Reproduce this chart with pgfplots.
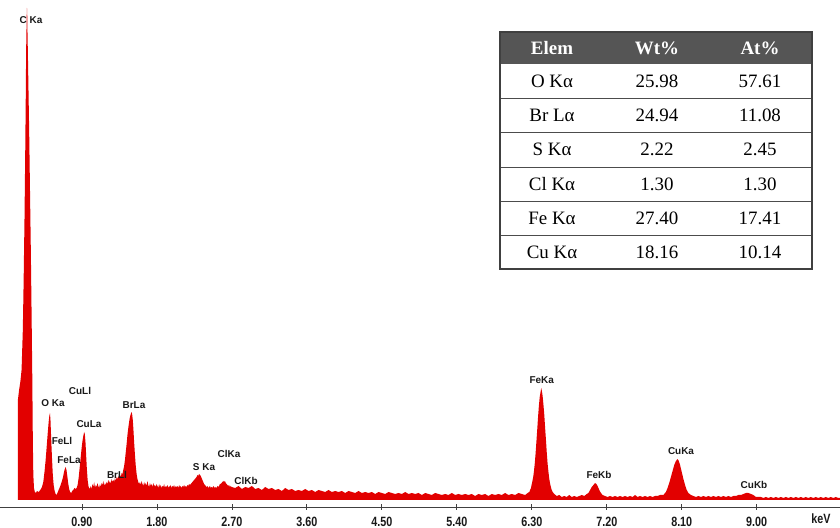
\documentclass[border=0pt]{standalone}
\usepackage{pgfplots}
\pgfplotsset{compat=1.18}
\usepackage{fontspec}
\setmainfont{Liberation Serif}
\newfontfamily\labfont{Liberation Sans}
\newfontfamily\tickfont[FakeStretch=0.8]{Liberation Sans}
\definecolor{specred}{RGB}{226,0,0}
\definecolor{hdr}{RGB}{85,85,85}
\definecolor{labc}{RGB}{25,25,25}
\newcommand{\pk}[3]{\node[font=\labfont\bfseries\fontsize{10}{10}\selectfont, text=labc, anchor=base, inner sep=0pt] at (#1,{507-#2-3.6}) {#3};}
\newcommand{\tc}[3]{\node[font=\fontsize{19}{19}\selectfont, anchor=base, inner sep=0pt] at (#1,#2) {#3};}
\begin{document}
\begin{tikzpicture}[x=1bp,y=1bp]
\begin{axis}[at={(0,0)}, anchor=south west, scale only axis,
  width=840bp, height=507bp,
  xmin=-0.084, xmax=10.0, ymin=-7, ymax=500,
  axis x line=bottom, axis y line=none,
  axis line style={-, draw=black!75, line width=0.8bp},
  xtick={0.9,1.8,2.7,3.6,4.5,5.4,6.3,7.2,8.1,9.0},
  xticklabels={0.90,1.80,2.70,3.60,4.50,5.40,6.30,7.20,8.10,9.00},
  ytick=\empty,
  xtick align=center, major tick length=6bp,
  tick style={draw=black!75, line width=0.8bp},
  xticklabel style={font=\tickfont\bfseries\fontsize{13.5}{13.5}\selectfont, text=labc, inner sep=0pt, anchor=base, yshift=-16.8bp},
  clip=false]
\addplot[fill=specred, draw=none] coordinates {
(0.130,0) (0.131,100) (0.145,110) (0.160,118) (0.175,130) (0.190,170) (0.200,220) (0.210,280) (0.218,340) (0.225,400) (0.230,450) (0.234,470) (0.237,485) (0.240,492) (0.243,485) (0.246,468) (0.250,450) (0.258,410) (0.266,370) (0.276,310) (0.286,250) (0.296,180) (0.304,120) (0.310,60) (0.316,25) (0.324,12) (0.334,8) (0.346,7)
(0.360,9) (0.380,8) (0.400,10) (0.420,13) (0.436,18) (0.450,28) (0.464,40) (0.478,55) (0.490,68) (0.500,78) (0.508,84) (0.516,87) (0.522,80) (0.530,62) (0.540,42) (0.550,25) (0.560,15) (0.572,9) (0.584,6) (0.596,5) (0.610,8) (0.625,11)
(0.640,14) (0.656,18) (0.670,22) (0.682,27) (0.694,31) (0.704,33) (0.714,30) (0.724,24) (0.734,17) (0.746,11) (0.758,8) (0.770,7) (0.782,9) (0.796,10) (0.810,12) (0.824,11)
(0.836,12) (0.848,15) (0.860,22) (0.872,32) (0.884,42) (0.896,52) (0.906,59) (0.916,64) (0.926,68) (0.934,66) (0.942,58) (0.950,45) (0.958,32) (0.968,20) (0.980,13) (0.994,11)
(1.006,14) (1.016,11) (1.026,16) (1.036,13) (1.046,18) (1.056,12) (1.066,15) (1.076,13) (1.086,17) (1.096,14) (1.106,12) (1.116,16) (1.126,13) (1.136,17) (1.146,15) (1.156,19) (1.166,14) (1.176,17) (1.186,15) (1.196,18) (1.206,16) (1.216,20) (1.226,17) (1.236,19) (1.246,16) (1.256,21) (1.266,18) (1.276,20) (1.286,18) (1.296,22) (1.306,19) (1.316,23) (1.326,21) (1.336,24) (1.346,22) (1.356,25) (1.366,23) (1.376,27) (1.386,26)
(1.396,30) (1.406,34) (1.416,40) (1.426,48) (1.436,56) (1.446,65) (1.456,72) (1.466,78) (1.476,83) (1.486,86) (1.494,88) (1.502,86) (1.510,80) (1.518,70) (1.526,58) (1.536,45) (1.546,34) (1.556,26) (1.566,21) (1.576,18) (1.586,16)
(1.596,18) (1.606,15) (1.616,19) (1.626,16) (1.636,14) (1.646,18) (1.656,15) (1.666,17) (1.676,14) (1.686,19) (1.696,15) (1.706,13) (1.716,17) (1.726,14) (1.736,16) (1.746,13) (1.756,17) (1.766,14) (1.776,15) (1.786,13) (1.796,16) (1.806,14) (1.816,12) (1.826,16) (1.836,13) (1.846,15) (1.856,12) (1.866,14) (1.876,13) (1.886,16) (1.896,12) (1.906,14) (1.916,13) (1.926,15) (1.936,12) (1.946,14) (1.956,13) (1.966,15) (1.976,12) (1.986,14) (1.996,13) (2.006,15) (2.016,12) (2.026,14) (2.036,13) (2.046,14) (2.056,12) (2.066,15) (2.076,13) (2.086,14) (2.096,12) (2.106,14) (2.116,13) (2.126,15) (2.136,13) (2.146,14) (2.156,13) (2.166,15) (2.176,14) (2.186,16) (2.196,15) (2.206,16)
(2.216,17) (2.226,18) (2.236,19) (2.246,20) (2.256,21) (2.266,22) (2.276,23) (2.286,25) (2.296,24) (2.306,26) (2.316,25) (2.326,24) (2.336,22) (2.346,20) (2.356,18) (2.366,16) (2.376,15) (2.386,14) (2.396,13) (2.406,14) (2.416,12) (2.426,13) (2.436,14) (2.446,12) (2.456,13) (2.466,12) (2.476,14) (2.486,13) (2.496,12) (2.506,13) (2.516,12) (2.526,14) (2.536,13) (2.546,14) (2.556,16)
(2.566,16) (2.576,17) (2.586,18) (2.596,19) (2.606,18) (2.616,19) (2.626,17) (2.636,16) (2.646,15) (2.656,14) (2.666,15) (2.676,13) (2.686,14) (2.696,13)
(2.74,12) (2.78,14) (2.82,11) (2.86,13) (2.90,12) (2.94,14) (2.98,11) (3.02,12) (3.06,10) (3.10,13) (3.14,11) (3.18,12) (3.22,10) (3.26,11) (3.30,9) (3.34,12) (3.38,10) (3.42,11) (3.46,9) (3.50,10) (3.54,9) (3.58,11) (3.62,9) (3.66,10) (3.70,8) (3.74,10) (3.78,9) (3.82,8) (3.86,10) (3.90,8) (3.94,9) (3.98,8) (4.02,9) (4.06,7) (4.10,9) (4.14,8) (4.18,7) (4.22,9) (4.26,7) (4.30,8) (4.34,7) (4.38,8) (4.42,6) (4.46,8) (4.50,7) (4.54,6) (4.58,8) (4.62,7) (4.66,6) (4.70,7) (4.74,6) (4.78,8) (4.82,6) (4.86,7) (4.90,6) (4.94,7) (4.98,5) (5.02,7) (5.06,6) (5.10,5) (5.14,7) (5.18,6) (5.22,5) (5.26,6) (5.30,5) (5.34,7) (5.38,5) (5.42,6) (5.46,5) (5.50,6) (5.54,5) (5.58,6) (5.62,4) (5.66,6) (5.70,5) (5.74,6) (5.78,4) (5.82,6) (5.86,5) (5.90,6) (5.94,5) (5.98,7) (6.02,5) (6.06,6) (6.10,5) (6.14,7)
(6.18,6) (6.22,5) (6.25,7) (6.27,8) (6.29,12) (6.305,18) (6.315,22) (6.325,28) (6.335,36) (6.345,46) (6.355,58) (6.365,70) (6.375,83) (6.385,94) (6.395,103) (6.405,108) (6.413,112) (6.421,109) (6.43,104) (6.44,95) (6.45,85) (6.46,72) (6.47,60) (6.48,47) (6.49,36) (6.50,28) (6.51,21) (6.52,16) (6.535,11) (6.55,8) (6.57,6) (6.60,4) (6.63,5) (6.66,3) (6.69,4) (6.72,3) (6.75,5) (6.78,3) (6.81,4) (6.84,3) (6.87,4) (6.90,5) (6.93,4) (6.96,6)
(6.98,7) (7.00,10) (7.02,13) (7.04,15) (7.06,17) (7.075,16) (7.09,14) (7.11,10) (7.13,7) (7.15,5) (7.18,4) (7.21,3) (7.24,4) (7.27,3)
(7.30,4) (7.33,3) (7.36,4) (7.39,3) (7.42,4) (7.45,3) (7.48,4) (7.51,3) (7.54,5) (7.57,3) (7.60,4) (7.63,3) (7.66,4) (7.69,3) (7.72,4) (7.75,3) (7.78,4) (7.81,4) (7.84,5)
(7.88,5) (7.91,8) (7.93,12) (7.95,17) (7.97,23) (7.99,29) (8.01,35) (8.03,39) (8.05,41) (8.065,39) (8.08,35) (8.10,28) (8.12,21) (8.14,15) (8.16,10) (8.18,7) (8.21,5) (8.24,4) (8.27,3)
(8.30,4) (8.33,3) (8.36,4) (8.39,3) (8.42,4) (8.45,3) (8.48,4) (8.51,3) (8.54,4) (8.57,3) (8.60,4) (8.63,3) (8.66,4) (8.69,3) (8.72,4) (8.75,4) (8.78,5)
(8.81,5) (8.84,6) (8.87,7) (8.90,7) (8.93,6) (8.96,5) (8.99,3) (9.02,3)
(9.05,3) (9.08,2) (9.11,3) (9.14,2) (9.17,3) (9.20,2) (9.23,3) (9.26,2) (9.29,3) (9.32,2) (9.35,3) (9.38,2) (9.41,3) (9.44,2) (9.47,3) (9.50,2) (9.53,3) (9.56,2) (9.59,3) (9.62,2) (9.65,3) (9.68,2) (9.71,3) (9.74,2) (9.77,3) (9.80,2) (9.83,3) (9.86,2) (9.89,3) (9.92,2) (9.95,3) (9.98,2) (10.00,2) (10.00,0)
} \closedcycle;
\end{axis}
% peak labels
\pk{31}{20}{C Ka}
\pk{80}{391}{CuLl}
\pk{53}{403}{O Ka}
\pk{62}{441}{FeLl}
\pk{89}{424}{CuLa}
\pk{69}{460}{FeLa}
\pk{134}{405}{BrLa}
\pk{117}{475}{BrLl}
\pk{204}{467}{S Ka}
\pk{229}{454}{ClKa}
\pk{246}{481}{ClKb}
\pk{541.7}{380}{FeKa}
\pk{599}{475}{FeKb}
\pk{681}{451}{CuKa}
\pk{754}{485}{CuKb}
\node[font=\tickfont\bfseries\fontsize{13.5}{13.5}\selectfont, text=labc, anchor=base, inner sep=0pt] at (821,-16.8) {keV};
% table
\fill[white] (500,238) rectangle (812,475);
\fill[hdr] (500,443) rectangle (812,475);
\foreach \yy in {409,374.5,340,306,272} \draw[black!70, line width=0.9bp] (500,\yy) -- (812,\yy);
\draw[black!75, line width=1.1bp] (500,238) rectangle (812,475);
\node[font=\bfseries\fontsize{19}{19}\selectfont, text=white, anchor=base, inner sep=0pt] at (552,452.7) {Elem};
\node[font=\bfseries\fontsize{19}{19}\selectfont, text=white, anchor=base, inner sep=0pt] at (657,452.7) {Wt\%};
\node[font=\bfseries\fontsize{19}{19}\selectfont, text=white, anchor=base, inner sep=0pt] at (760,452.7) {At\%};
\tc{552}{419.7}{O Kα}\tc{657}{419.7}{25.98}\tc{760}{419.7}{57.61}
\tc{552}{385.5}{Br Lα}\tc{657}{385.5}{24.94}\tc{760}{385.5}{11.08}
\tc{552}{351}{S Kα}\tc{657}{351}{2.22}\tc{760}{351}{2.45}
\tc{552}{316.7}{Cl Kα}\tc{657}{316.7}{1.30}\tc{760}{316.7}{1.30}
\tc{552}{282.7}{Fe Kα}\tc{657}{282.7}{27.40}\tc{760}{282.7}{17.41}
\tc{552}{248.7}{Cu Kα}\tc{657}{248.7}{18.16}\tc{760}{248.7}{10.14}
\pgfresetboundingbox
\path[use as bounding box] (0,-21) rectangle (840,507);
\end{tikzpicture}
\end{document}
